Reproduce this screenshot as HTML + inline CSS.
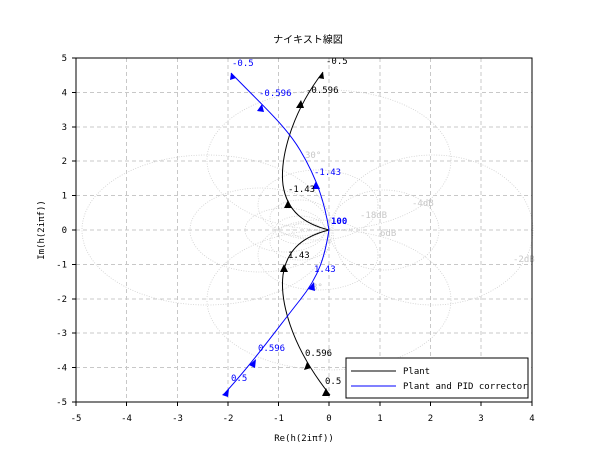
<!DOCTYPE html><html><head><style>body{margin:0;background:#fff}svg text{font-family:"DejaVu Sans Mono","Liberation Mono","Noto Sans CJK JP",monospace;font-size:9px}</style></head><body>
<svg width="610" height="460" xmlns="http://www.w3.org/2000/svg">
<rect width="610" height="460" fill="#fff"/>
<g stroke="#c8c8c8" stroke-dasharray="4,3" stroke-width="1">
<line x1="126.5" y1="58" x2="126.5" y2="402"/><line x1="177.5" y1="58" x2="177.5" y2="402"/><line x1="228" y1="58" x2="228" y2="402"/><line x1="278.5" y1="58" x2="278.5" y2="402"/><line x1="329" y1="58" x2="329" y2="402"/><line x1="380" y1="58" x2="380" y2="402"/><line x1="430.5" y1="58" x2="430.5" y2="402"/><line x1="481" y1="58" x2="481" y2="402"/>
<line x1="76" y1="92.5" x2="532" y2="92.5"/><line x1="76" y1="127" x2="532" y2="127"/><line x1="76" y1="161" x2="532" y2="161"/><line x1="76" y1="195.5" x2="532" y2="195.5"/><line x1="76" y1="230" x2="532" y2="230"/><line x1="76" y1="264.5" x2="532" y2="264.5"/><line x1="76" y1="299" x2="532" y2="299"/><line x1="76" y1="333" x2="532" y2="333"/><line x1="76" y1="367.5" x2="532" y2="367.5"/>
</g>
<g fill="none" stroke="#d0d0d0" stroke-dasharray="1,1.5" stroke-width="0.8">
<ellipse cx="207" cy="230" rx="125" ry="75"/><ellipse cx="433" cy="230" rx="100" ry="75"/>
<ellipse cx="329" cy="160" rx="122" ry="70"/><ellipse cx="329" cy="300" rx="122" ry="70"/>
<ellipse cx="260" cy="230" rx="70" ry="42"/><ellipse cx="384" cy="230" rx="55" ry="40"/>
<ellipse cx="318" cy="205" rx="60" ry="35"/><ellipse cx="318" cy="255" rx="60" ry="35"/>
<ellipse cx="285" cy="230" rx="40" ry="22"/><ellipse cx="300" cy="230" rx="25" ry="14"/>
<ellipse cx="300" cy="218" rx="30" ry="18"/><ellipse cx="300" cy="242" rx="30" ry="18"/>
<ellipse cx="306" cy="230" rx="14" ry="8"/>
</g>
<g fill="#c8c8c8"><text x="412" y="206">-4dB</text><text x="513" y="262">-2dB</text><text x="380" y="236">6dB</text><text x="360" y="218">-18dB</text><text x="305" y="158">30°</text><text x="312" y="290">8°</text></g>
<rect x="76" y="58" width="456" height="344" fill="none" stroke="#000"/>
<g stroke="#000"><line x1="76" y1="402" x2="76" y2="406"/><line x1="126.5" y1="402" x2="126.5" y2="406"/><line x1="177.5" y1="402" x2="177.5" y2="406"/><line x1="228" y1="402" x2="228" y2="406"/><line x1="278.5" y1="402" x2="278.5" y2="406"/><line x1="329" y1="402" x2="329" y2="406"/><line x1="380" y1="402" x2="380" y2="406"/><line x1="430.5" y1="402" x2="430.5" y2="406"/><line x1="481" y1="402" x2="481" y2="406"/><line x1="532" y1="402" x2="532" y2="406"/>
<line x1="72" y1="58" x2="76" y2="58"/><line x1="72" y1="92.5" x2="76" y2="92.5"/><line x1="72" y1="127" x2="76" y2="127"/><line x1="72" y1="161" x2="76" y2="161"/><line x1="72" y1="195.5" x2="76" y2="195.5"/><line x1="72" y1="230" x2="76" y2="230"/><line x1="72" y1="264.5" x2="76" y2="264.5"/><line x1="72" y1="299" x2="76" y2="299"/><line x1="72" y1="333" x2="76" y2="333"/><line x1="72" y1="367.5" x2="76" y2="367.5"/><line x1="72" y1="402" x2="76" y2="402"/></g>
<g text-anchor="middle"><text x="76" y="421">-5</text><text x="126.5" y="421">-4</text><text x="177.5" y="421">-3</text><text x="228" y="421">-2</text><text x="278.5" y="421">-1</text><text x="329" y="421">0</text><text x="380" y="421">1</text><text x="430.5" y="421">2</text><text x="481" y="421">3</text><text x="532" y="421">4</text>
<text x="304" y="441">Re(h(2iπf))</text><text x="308" y="43" style="font-family:'Liberation Sans','Noto Sans CJK JP',sans-serif;font-size:10px">ナイキスト線図</text></g>
<g text-anchor="end"><text x="67" y="61">5</text><text x="67" y="95.5">4</text><text x="67" y="130">3</text><text x="67" y="164">2</text><text x="67" y="198.5">1</text><text x="67" y="233">0</text><text x="67" y="267.5">-1</text><text x="67" y="302">-2</text><text x="67" y="336">-3</text><text x="67" y="370.5">-4</text><text x="67" y="405">-5</text></g>
<text transform="translate(44,230) rotate(-90)" text-anchor="middle">Im(h(2iπf))</text>
<g fill="none" stroke-width="1">
<path d="M329,230 C305,224 287,212 283,185 C280,160 290,115 323,72" stroke="#000"/>
<path d="M329,230 C305,236 287,248 283,275 C280,300 290,345 330,395" stroke="#000"/>
<path d="M329,230 C325,205 318,180 300,150 C285,125 262,105 231,73" stroke="#00f"/>
<path d="M329,230 C325,255 320,275 300,300 C280,325 255,360 225,393" stroke="#00f"/>
</g>
<g fill="#000"><polygon points="288,200 284,208 292,208"/><polygon points="301,100 296,108 304,108"/><polygon points="284,264 280,272 288,272"/><polygon points="307,362 304,370 311,368"/><polygon points="326,388 322,396 330,396"/><polygon points="323,72 318,78 324,79"/></g>
<g fill="#00f"><polygon points="316,181 312,189 320,189"/><polygon points="262,104 257,111 264,112"/><polygon points="314,282 308,289 315,291"/><polygon points="256,359 249,365 255,368"/><polygon points="229,389 222,395 228,397"/><polygon points="231,73 230,80 236,78"/></g>
<g fill="#000"><text x="326" y="64">-0.5</text><text x="306" y="93">-0.596</text><text x="288" y="192">-1.43</text><text x="288" y="258">1.43</text><text x="305" y="356">0.596</text><text x="325" y="384">0.5</text></g>
<g fill="#00f"><text x="232" y="66">-0.5</text><text x="259" y="96">-0.596</text><text x="314" y="175">-1.43</text><text x="314" y="272">1.43</text><text x="258" y="351">0.596</text><text x="231" y="381">0.5</text><text x="331" y="224" font-weight="bold">100</text></g>
<rect x="346" y="358" width="182" height="40" fill="#fff" stroke="#000"/>
<line x1="351" y1="371" x2="396" y2="371" stroke="#000"/><line x1="351" y1="386" x2="396" y2="386" stroke="#00f"/>
<text x="403" y="374">Plant</text><text x="403" y="389">Plant and PID corrector</text>
</svg></body></html>
